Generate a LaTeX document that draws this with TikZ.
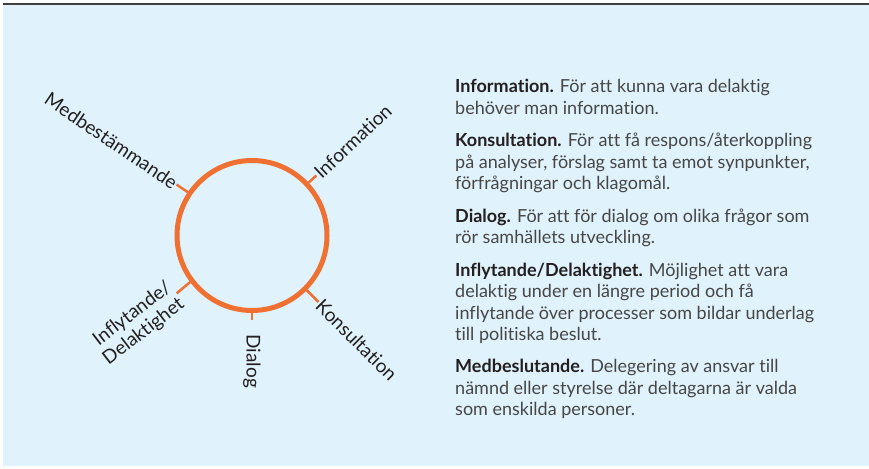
\documentclass[tikz,border=0pt]{standalone}
\usepackage{fontspec}
\setmainfont[Ligatures=NoCommon]{Lato}
\usetikzlibrary{positioning}
\definecolor{ringorange}{RGB}{240,112,50}
\definecolor{panelblue}{RGB}{224,242,252}
\definecolor{bodygray}{RGB}{70,70,70}
\definecolor{inkdark}{RGB}{35,31,32}

\begin{document}
\begin{tikzpicture}[x=1pt,y=1pt,
  ring/.style={circle, draw=ringorange, line width=5pt, minimum size=150pt, inner sep=0pt},
  spoke/.style={draw=ringorange, line width=2.5pt},
  lbl/.style={font=\fontsize{19}{21}\selectfont, text=inkdark, inner sep=1pt},
  para/.style={font=\fontsize{18}{21.5}\selectfont, text=bodygray, align=left, inner sep=0pt, anchor=north west}]

\useasboundingbox (0,0) rectangle (869,468);
\fill[panelblue] (3,2) rectangle (869,463);
\draw[line width=2pt, black!75] (3,464) -- (869,464);

% ring with its five spokes
\node[ring] (hub) at (252,232.5) {};

\coordinate (t-info) at ([shift={(43:88)}]hub.center);
\coordinate (t-med) at ([shift={(146:91)}]hub.center);
\coordinate (t-infl) at ([shift={(217.5:95)}]hub.center);
\coordinate (t-dia) at ([shift={(270:85)}]hub.center);
\coordinate (t-kons) at ([shift={(-45:94)}]hub.center);

\node[lbl, rotate=43, anchor=west] (info) at (t-info) {Information};
\node[lbl, rotate=-34, anchor=east] (med) at (t-med) {Medbestämmande};
\node[lbl, rotate=37.5, anchor=east, align=right] (infl) at (t-infl) {Inflytande/\\Delaktighet};
\node[lbl, rotate=-90, anchor=west] (dia) at ([shift={(270:13)}]t-dia) {Dialog};
\node[lbl, rotate=-45, anchor=west] (kons) at (t-kons) {Konsultation};

\path[spoke]
  (hub.43) edge (t-info)
  (hub.146) edge (t-med)
  (hub.217.5) edge (t-infl)
  (hub.270) edge (t-dia)
  (hub.-45) edge (t-kons);

% text column
\node[para] (p1) at (455,390.4) {\strut{\color{inkdark}\bfseries Information.} För att kunna vara delaktig\\
  behöver man information.\strut};
\node[para] (p2) [below=10.5pt of p1.south west, anchor=north west] {\strut{\color{inkdark}\bfseries Konsultation.} För att få respons/återkoppling\\
  på analyser, förslag samt ta emot synpunkter,\\
  förfrågningar och klagomål.\strut};
\node[para] (p3) [below=10.5pt of p2.south west, anchor=north west] {\strut{\color{inkdark}\bfseries Dialog.} För att för dialog om olika frågor som\\
  rör samhällets utveckling.\strut};
\node[para] (p4) [below=10.5pt of p3.south west, anchor=north west] {\strut{\color{inkdark}\bfseries Inflytande/Delaktighet.} Möjlighet att vara\\
  delaktig under en längre period och få\\
  inflytande över processer som bildar underlag\\
  till politiska beslut.\strut};
\node[para] (p5) [below=10.5pt of p4.south west, anchor=north west] {\strut{\color{inkdark}\bfseries Medbeslutande.} Delegering av ansvar till\\
  nämnd eller styrelse där deltagarna är valda\\
  som enskilda personer.\strut};

\end{tikzpicture}
\end{document}
